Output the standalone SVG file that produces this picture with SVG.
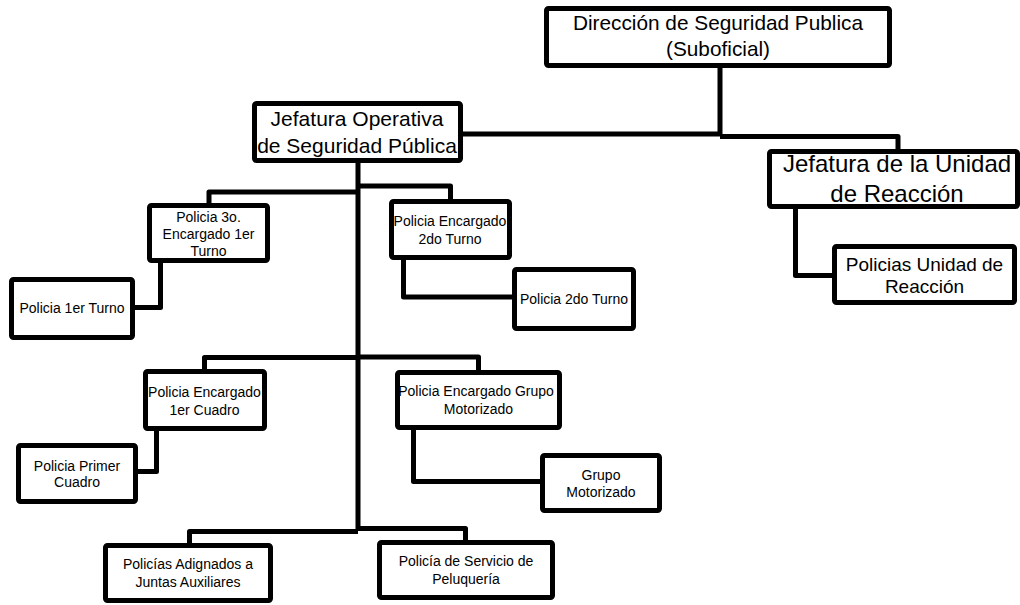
<svg xmlns="http://www.w3.org/2000/svg" width="1020" height="605" viewBox="0 0 1020 605">
<style>
.box{fill:#fff;stroke:#000;stroke-width:5;stroke-linejoin:round}
.con{fill:none;stroke:#000;stroke-width:5;stroke-linejoin:round}
text{font-family:"Liberation Sans",Arial,sans-serif;fill:#000;text-anchor:middle}
.s{font-size:14px}
</style>
<rect width="1020" height="605" fill="#fff"/>
<g id="connectors">
<path class="con" d="M720 66 V134 H461"/>
<path class="con" d="M720 136.5 H898 V152"/>
<path class="con" d="M358 161 V531"/>
<path class="con" d="M358 192 H209 V206"/>
<path class="con" d="M358 186 H450.5 V202"/>
<path class="con" d="M160.5 261 V307.5 H133"/>
<path class="con" d="M403.5 258 V297 H515"/>
<path class="con" d="M358 357.5 H204.5 V372"/>
<path class="con" d="M358 357 H478.5 V373"/>
<path class="con" d="M156.5 429 V471.5 H136"/>
<path class="con" d="M413.5 428 V481.5 H543"/>
<path class="con" d="M358 531.5 H189.5 V546"/>
<path class="con" d="M358 528.5 H465.5 V543"/>
<path class="con" d="M795.5 207 V275.5 H835"/>
</g>
<g id="direccion">
<rect class="box" x="546.5" y="8.5" width="343" height="57" rx="2"/>
<text x="718" y="30" font-size="20.8">Dirección de Seguridad Publica</text>
<text x="718" y="56" font-size="20.8">(Suboficial)</text>
</g>
<g id="jefatura-operativa">
<rect class="box" x="254.5" y="103.5" width="206" height="57" rx="2"/>
<text x="357" y="126" font-size="21">Jefatura Operativa</text>
<text x="357" y="153" font-size="21">de Seguridad Pública</text>
</g>
<g id="jefatura-unidad">
<rect class="box" x="769.5" y="151.5" width="248" height="55" rx="2"/>
<text x="897" y="172" font-size="24">Jefatura de la Unidad</text>
<text x="897" y="202" font-size="24">de Reacción</text>
</g>
<g id="policias-unidad">
<rect class="box" x="834.5" y="246.5" width="180" height="56" rx="2"/>
<text x="924.5" y="271" font-size="19">Policias Unidad de</text>
<text x="924.5" y="293" font-size="19">Reacción</text>
</g>
<g id="policia-3o">
<rect class="box" x="149.5" y="205.5" width="118" height="55" rx="2"/>
<text class="s" x="208.5" y="222">Policia 3o.</text>
<text class="s" x="208.5" y="239">Encargado 1er</text>
<text class="s" x="208.5" y="256">Turno</text>
</g>
<g id="policia-1er-turno">
<rect class="box" x="11.5" y="279.5" width="121" height="58" rx="2"/>
<text class="s" x="72" y="313">Policia 1er Turno</text>
</g>
<g id="encargado-2do">
<rect class="box" x="391.5" y="201.5" width="118" height="56" rx="2"/>
<text class="s" x="450" y="226">Policia Encargado</text>
<text class="s" x="450" y="244">2do Turno</text>
</g>
<g id="policia-2do-turno">
<rect class="box" x="514.5" y="269.5" width="119" height="59" rx="2"/>
<text class="s" x="574" y="304">Policia 2do Turno</text>
</g>
<g id="encargado-1er-cuadro">
<rect class="box" x="145.5" y="371.5" width="119" height="57" rx="2"/>
<text class="s" x="204.5" y="397">Policia Encargado</text>
<text class="s" x="204.5" y="415">1er Cuadro</text>
</g>
<g id="policia-primer-cuadro">
<rect class="box" x="18.5" y="445.5" width="117" height="56" rx="2"/>
<text class="s" x="77" y="471">Policia Primer</text>
<text class="s" x="77" y="487">Cuadro</text>
</g>
<g id="encargado-grupo-motorizado">
<rect class="box" x="397.5" y="372.5" width="162" height="55" rx="2"/>
<text class="s" x="476" y="396">Policia Encargado Grupo</text>
<text class="s" x="478.5" y="414">Motorizado</text>
</g>
<g id="grupo-motorizado">
<rect class="box" x="542.5" y="455.5" width="117" height="55" rx="2"/>
<text class="s" x="601" y="480">Grupo</text>
<text class="s" x="601" y="497">Motorizado</text>
</g>
<g id="policias-adignados">
<rect class="box" x="105.5" y="545.5" width="165" height="55" rx="2"/>
<text class="s" x="188" y="569">Policías Adignados a</text>
<text class="s" x="188" y="587">Juntas Auxiliares</text>
</g>
<g id="policia-servicio">
<rect class="box" x="379.5" y="542.5" width="173" height="55" rx="2"/>
<text class="s" x="466" y="566">Policía de Servicio de</text>
<text class="s" x="466" y="584">Peluquería</text>
</g>
</svg>
